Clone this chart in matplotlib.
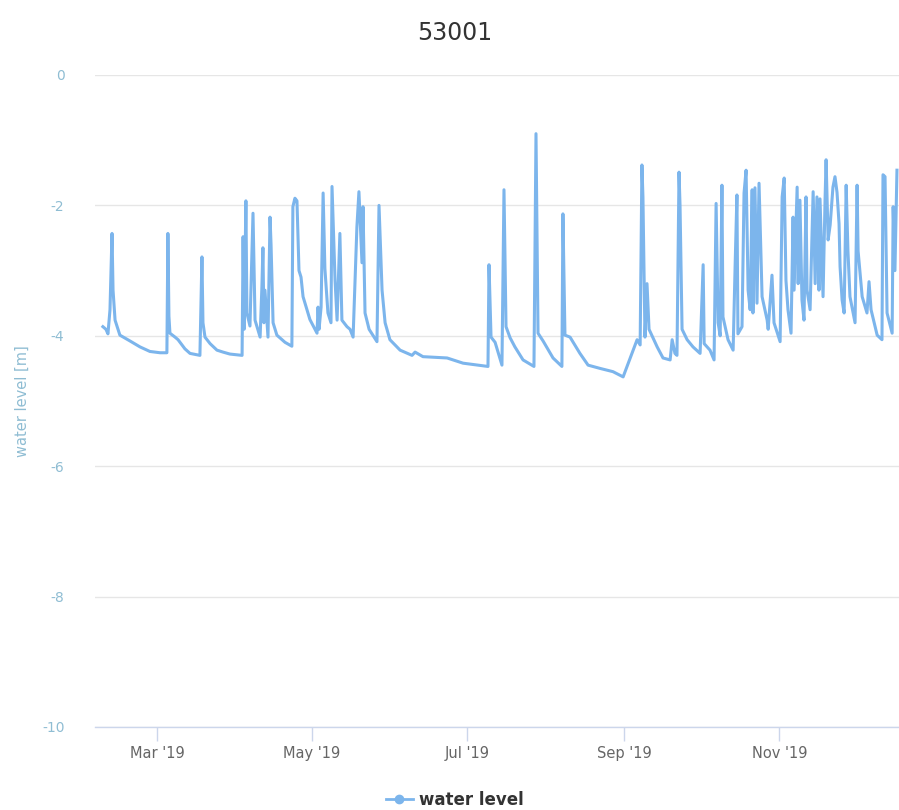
import matplotlib
matplotlib.use("Agg")
import matplotlib.pyplot as plt
import matplotlib.dates as mdates
from matplotlib.lines import Line2D
import pandas as pd

plt.rcParams["font.family"] = ["DejaVu Sans"]
plt.rcParams["axes.unicode_minus"] = False

# Station 53001 – groundwater level, 2019
# day: days since 2019-01-01 (fractional), level: water level in metres
day = [
    37.7, 38.9, 39.7, 40.5, 41.3, 41.7, 42.5, 44.4, 48.4, 52.3, 56.2, 60.2, 62.9,
    63.3, 63.7, 64.1, 66.1, 67.3, 70.0, 72.0, 75.9,
    76.7, 77.1, 77.9, 79.9, 82.6, 85.0, 87.7, 92.5,
    92.9, 93.3, 94.0, 94.4, 95.6, 96.8, 97.6, 99.6, 100.3, 100.7, 101.1, 101.5,
    102.7, 103.5, 103.9, 104.7, 106.2, 109.4, 112.1,
    112.5, 113.3, 114.1, 114.9, 115.7, 116.5, 119.2, 122.0, 122.4, 122.8, 123.6,
    124.4, 125.1, 126.3, 127.5, 127.9, 129.1, 129.9, 131.0, 131.8, 133.8, 135.0, 136.2,
    137.7, 138.5, 139.7, 140.1, 140.9, 142.5, 145.6,
    146.4, 147.6, 148.8, 150.7, 154.7, 159.4, 160.6, 163.7, 173.2, 179.5, 189.3,
    189.7, 190.5, 192.1, 194.8,
    195.6, 196.4, 198.0, 199.9, 203.1, 207.4,
    208.2, 209.0, 211.0, 214.9, 218.4,
    218.8, 219.6, 221.6, 225.5, 228.7, 233.4, 238.5, 242.5,
    248.0, 249.2, 249.9, 250.3, 251.1, 251.9, 252.7, 253.9, 255.9, 258.2, 261.0,
    261.8, 262.9, 263.7,
    264.5, 264.9, 265.7, 267.7, 270.0, 272.8, 274.0, 274.4, 276.7, 278.3, 279.1,
    279.9, 280.7, 281.4, 281.8, 283.8, 285.8, 286.6, 287.3, 287.7, 289.3, 290.1,
    290.9, 291.7, 292.5, 293.3, 293.6, 294.4, 295.2, 296.0, 297.2, 299.2, 299.6,
    301.1, 301.9, 304.3,
    305.1, 305.9, 306.6, 307.4, 308.6, 309.4, 309.8, 311.0, 311.4, 312.1, 312.9,
    313.7, 314.5, 314.9, 316.1, 317.3, 318.1, 318.8, 319.6, 320.0, 321.2, 322.0,
    322.4, 323.2, 324.0, 325.1, 325.9, 326.7, 327.5, 327.9, 328.7, 329.5, 330.3,
    331.0, 331.8, 333.8, 334.6, 335.0, 336.6, 338.5, 339.3, 340.1, 342.5, 344.4,
    344.8, 345.6, 346.4, 348.4, 348.8, 349.5, 350.3,
]
level = [
    -3.86, -3.90, -3.97, -3.60, -2.43, -3.30, -3.76, -3.99, -4.08, -4.17, -4.24, -4.26, -4.26,
    -2.43, -3.70, -3.96, -4.02, -4.06, -4.20, -4.27, -4.30,
    -2.79, -3.80, -4.02, -4.12, -4.22, -4.25, -4.28, -4.30,
    -2.48, -3.90, -1.93, -3.65, -3.85, -2.12, -3.76, -4.02, -3.25, -2.65, -3.80, -3.30,
    -4.02, -2.18, -2.60, -3.80, -3.99, -4.10, -4.16,
    -2.02, -1.89, -1.93, -3.00, -3.10, -3.40, -3.75, -3.96, -3.56, -3.90, -3.56,
    -1.81, -2.97, -3.65, -3.80, -1.71, -3.15, -3.76, -2.43, -3.76, -3.86, -3.90, -4.02,
    -2.33, -1.79, -2.88, -2.02, -3.65, -3.90, -4.09,
    -2.00, -3.30, -3.80, -4.06, -4.22, -4.30, -4.25, -4.32, -4.34, -4.42, -4.47,
    -2.91, -4.02, -4.10, -4.45,
    -1.76, -3.86, -4.03, -4.17, -4.37, -4.47,
    -0.90, -3.96, -4.08, -4.34, -4.47,
    -2.13, -3.99, -4.02, -4.27, -4.45, -4.50, -4.55, -4.63,
    -4.06, -4.14, -1.38, -1.87, -4.02, -3.20, -3.90, -4.00, -4.17, -4.34, -4.37,
    -4.06, -4.27, -4.30,
    -1.49, -2.00, -3.90, -4.06, -4.17, -4.27, -2.91, -4.12, -4.22, -4.37, -1.97,
    -3.80, -4.00, -1.69, -3.71, -4.06, -4.22, -2.91, -1.84, -3.97, -3.86, -1.81,
    -1.46, -3.30, -3.60, -1.76, -3.65, -1.73, -3.50, -1.66, -3.40, -3.76, -3.90,
    -3.07, -3.80, -4.09,
    -1.87, -1.58, -3.15, -3.60, -3.96, -2.18, -3.30, -1.72, -3.20, -1.92, -3.45,
    -3.76, -1.87, -3.30, -3.60, -1.79, -3.20, -1.87, -3.30, -1.90, -3.40, -1.90,
    -1.30, -2.53, -2.30, -1.72, -1.56, -1.80, -2.28, -2.94, -3.45, -3.65, -1.69,
    -2.70, -3.40, -3.80, -1.69, -2.70, -3.40, -3.65, -3.17, -3.60, -3.99, -4.06,
    -1.53, -1.56, -3.65, -3.96, -2.02, -3.00, -1.46,
]
x_range = [34.6, 351.1]
y_ticks = [0, -2, -4, -6, -8, -10]

title = "53001"
y_label = "water level [m]"
series_name = "water level"

line_color = "#7cb5ec"
grid_color = "#e6e6e6"
axis_color = "#ccd6eb"
ylabel_color = "#8fbdd3"

start = pd.Timestamp("2019-01-01")
dates = start + pd.to_timedelta(day, unit="D")

fig = plt.figure(figsize=(8.99, 8.10), dpi=100)
ax = fig.add_axes([95 / 899, 1 - 727 / 810, 1 - 95 / 899, (727 - 75) / 810])

ax.plot(dates, level, color=line_color, lw=2.2, solid_joinstyle="round", zorder=3)

ax.set_ylim(-10, 0)
ax.set_xlim(start + pd.Timedelta(days=x_range[0]), start + pd.Timedelta(days=x_range[1]))

# horizontal grid
ax.set_yticks(y_ticks)
ax.yaxis.grid(True, color=grid_color, lw=1.0)
ax.set_axisbelow(True)
for s in ("top", "right", "left"):
    ax.spines[s].set_visible(False)
ax.spines["bottom"].set_color(axis_color)
ax.spines["bottom"].set_linewidth(1.0)
ax.spines["bottom"].set_zorder(4)

ax.tick_params(axis="y", length=0, pad=22, labelsize=10, labelcolor=ylabel_color)
ax.tick_params(axis="x", length=10, width=1.0, color=axis_color, pad=4,
               labelsize=10.5, labelcolor="#666666")

ax.xaxis.set_major_locator(mdates.MonthLocator(bymonth=[3, 5, 7, 9, 11]))
ax.xaxis.set_major_formatter(mdates.DateFormatter("%b '%y"))

fig.text(22 / 899, 1 - 401 / 810, y_label, rotation=90, ha="center", va="center",
         fontsize=10.5, color=ylabel_color)
fig.text(455 / 899, 1 - 33 / 810, title, ha="center", va="center",
         fontsize=17, color="#333333")

handle = Line2D([], [], color=line_color, lw=2, marker="o", markersize=6,
                markerfacecolor=line_color, markeredgecolor=line_color)
fig.legend([handle], [series_name], loc="center", bbox_to_anchor=(455 / 899, 1 - 800 / 810),
           frameon=False, prop={"size": 12, "weight": "bold"}, labelcolor="#333333",
           handlelength=1.6, handletextpad=0.4)

fig.savefig("out.png", dpi=100)
